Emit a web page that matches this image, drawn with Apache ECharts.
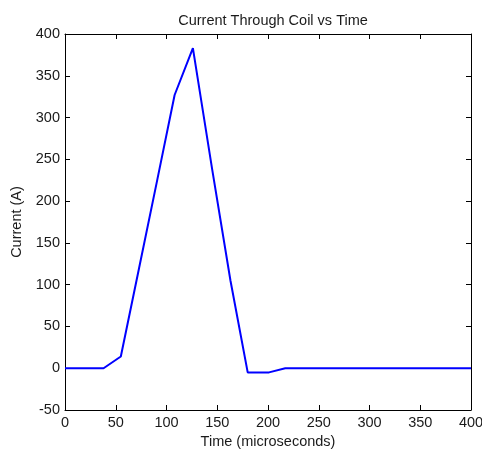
<!DOCTYPE html>
<html>
<head>
<meta charset="utf-8">
<script src="https://cdn.jsdelivr.net/npm/echarts@6/dist/echarts.min.js"></script>
<style>
html,body{margin:0;padding:0;background:#fff;}
#chart{width:482px;height:451px;}
</style>
</head>
<body>
<div id="chart"></div>
<script>
var titleText = 'Current Through Coil vs Time';
var xName = 'Time (microseconds)';
var yName = 'Current (A)';
var timeUs = [0, 38, 55, 73, 91, 108, 126, 145, 163, 180, 201, 217, 400];
var currentA = [0, 0, 14, 120, 226, 327, 383, 238, 105, -5, -5, 0, 0];

var chart = echarts.init(document.getElementById('chart'), null, {renderer: 'canvas'});
var font = 'Liberation Sans, Arial, sans-serif';
var fs = 14.5;
var txt = '#1a1a1a';
var axisCommon = {
  axisLine: {show: true, onZero: false, lineStyle: {color: '#000', width: 1}},
  axisTick: {show: true, inside: true, length: 5, lineStyle: {color: '#000'}},
  splitLine: {show: false}
};
var data = timeUs.map(function (t, i) { return [t, currentA[i]]; });
chart.setOption({
  animation: false,
  backgroundColor: '#fff',
  title: {
    text: titleText, left: 268, top: 8, textAlign: 'center',
    textStyle: {fontFamily: font, fontSize: fs, fontWeight: 'normal', color: txt}
  },
  grid: {left: 65, right: 11, top: 34, bottom: 41, containLabel: false, outerBoundsMode: 'none'},
  xAxis: [
    Object.assign({
      type: 'value', min: 0, max: 400, interval: 50, position: 'bottom',
      name: xName, nameLocation: 'middle', nameGap: 23,
      nameTextStyle: {fontFamily: font, fontSize: fs, color: txt},
      axisLabel: {fontFamily: font, fontSize: fs, color: txt, margin: 5}
    }, axisCommon),
    Object.assign({
      type: 'value', min: 0, max: 400, interval: 50, position: 'top',
      axisLabel: {show: false}
    }, axisCommon)
  ],
  yAxis: [
    Object.assign({
      type: 'value', min: -50, max: 400, interval: 50, position: 'left',
      name: yName, nameLocation: 'middle', nameGap: 40,
      nameTextStyle: {fontFamily: font, fontSize: fs, color: txt},
      axisLabel: {fontFamily: font, fontSize: fs, color: txt, margin: 5}
    }, axisCommon),
    Object.assign({
      type: 'value', min: -50, max: 400, interval: 50, position: 'right',
      axisLabel: {show: false}
    }, axisCommon)
  ],
  series: [{
    type: 'line', data: data, xAxisIndex: 0, yAxisIndex: 0,
    showSymbol: false, symbol: 'none',
    lineStyle: {color: '#0000ff', width: 2}
  }]
});
</script>
</body>
</html>
